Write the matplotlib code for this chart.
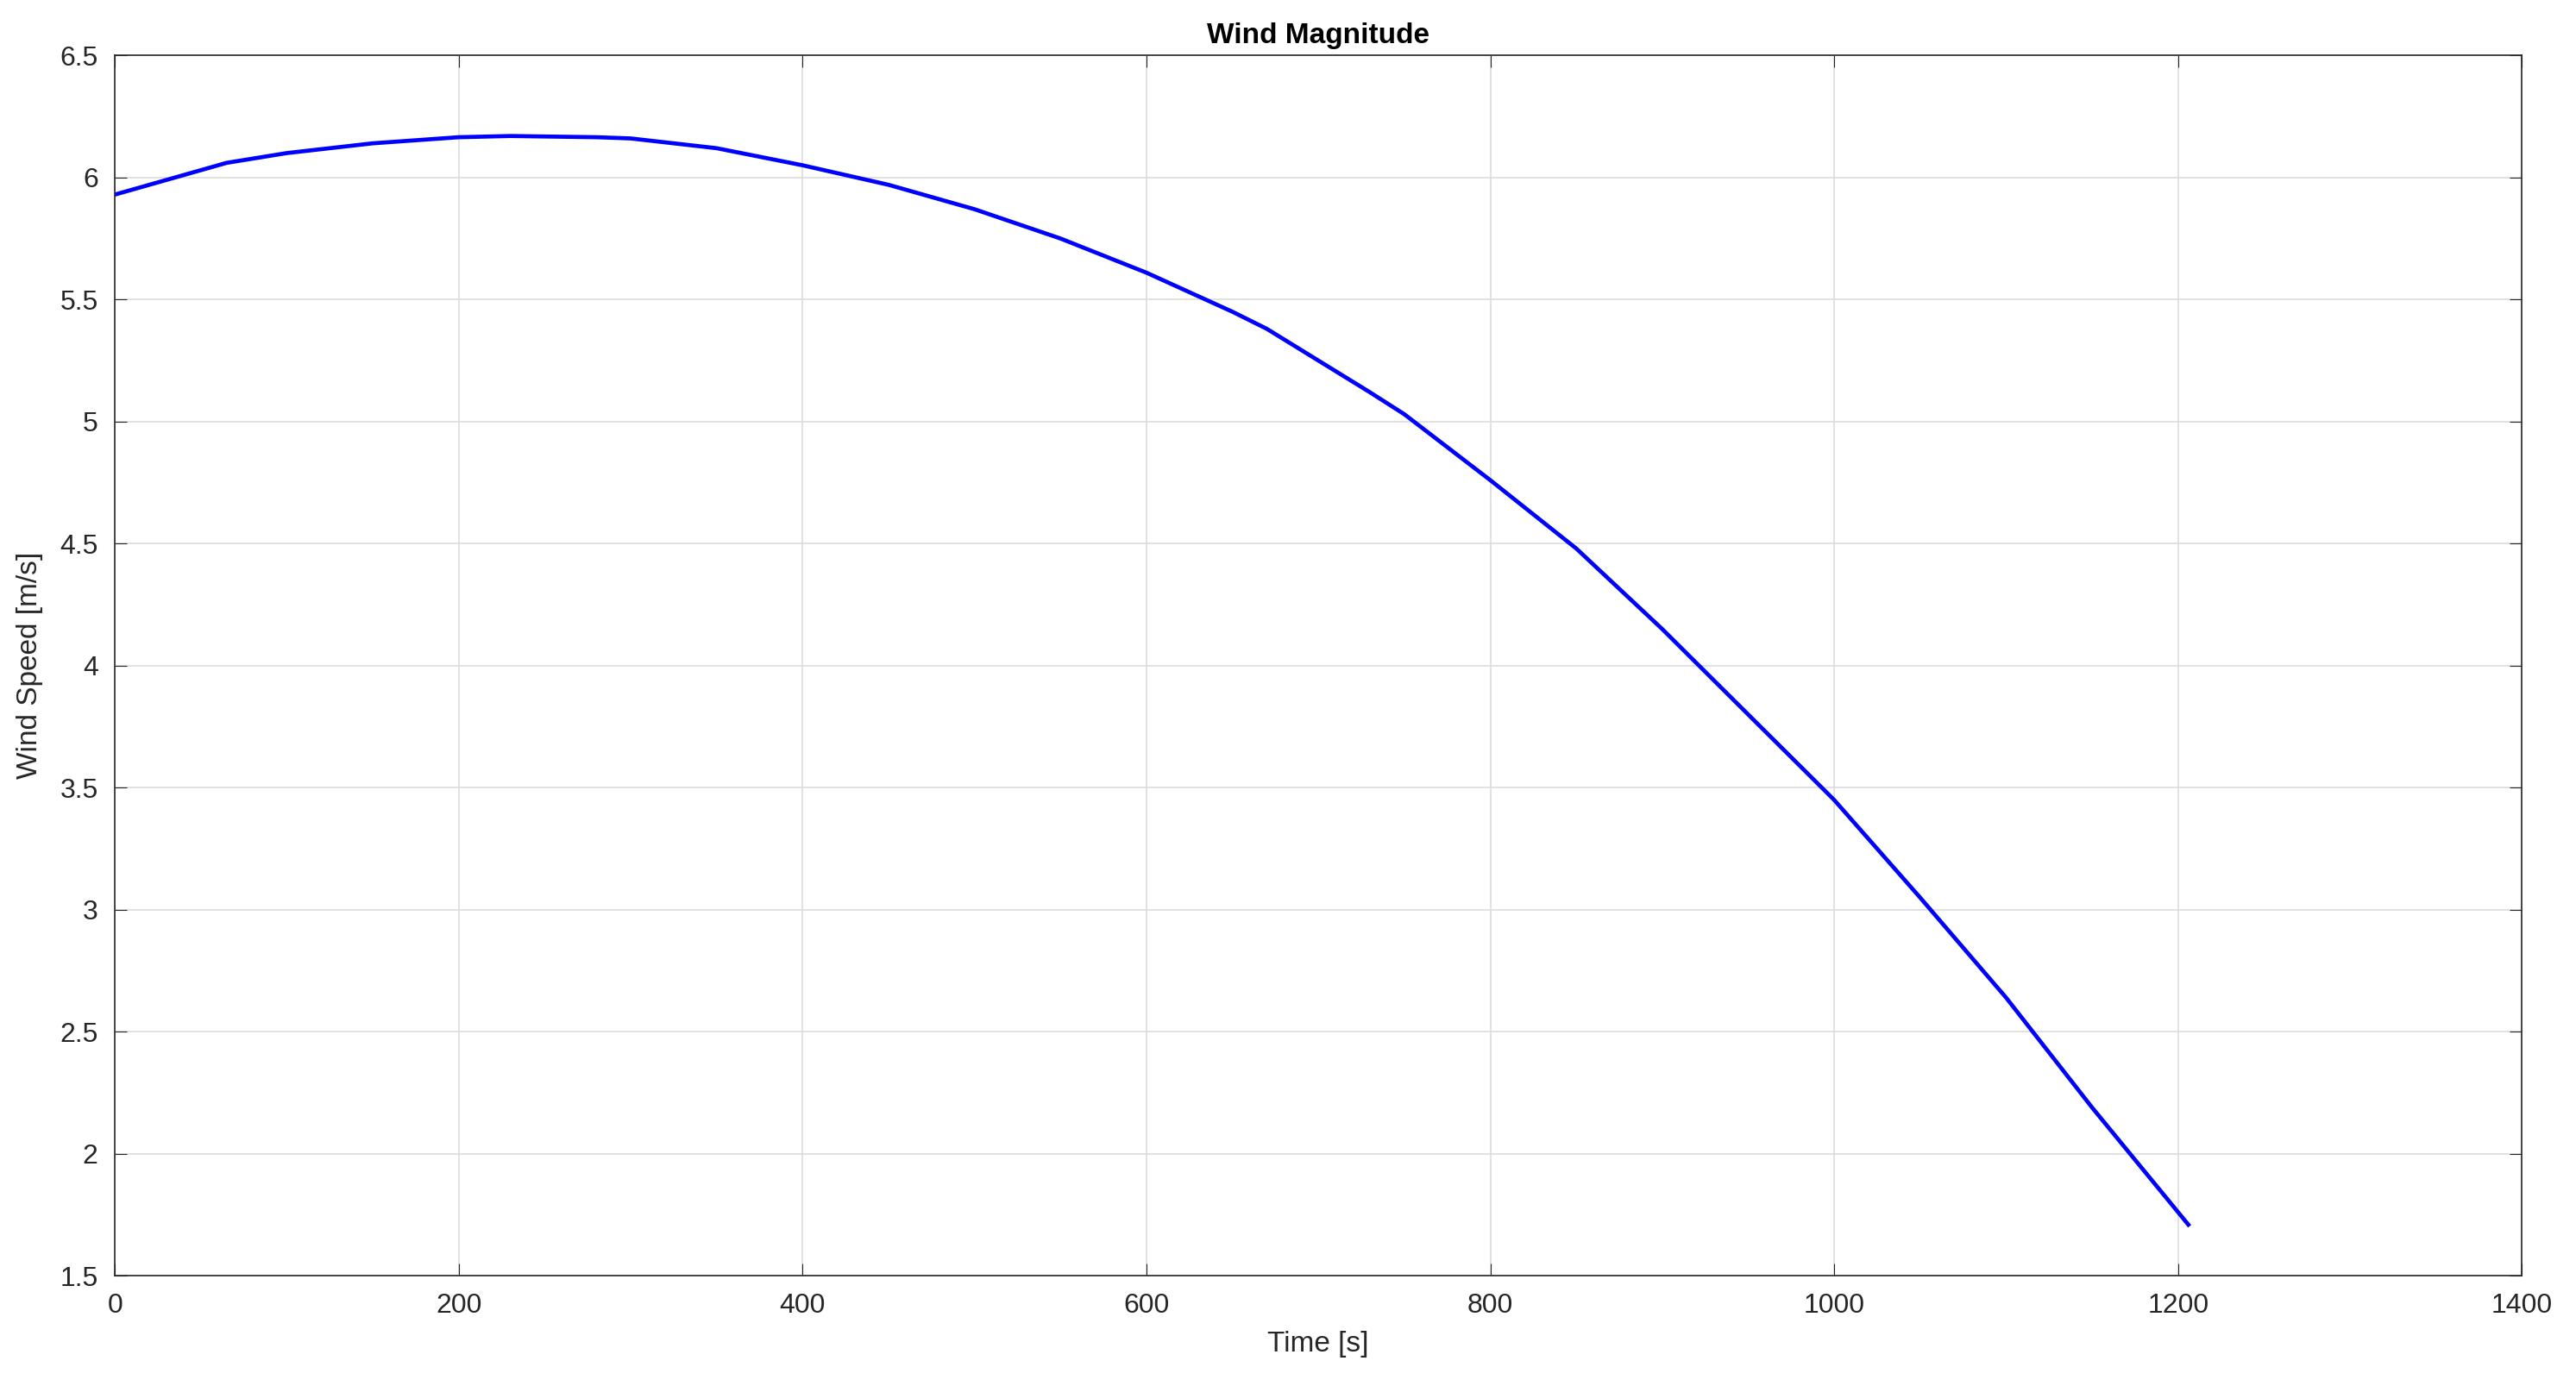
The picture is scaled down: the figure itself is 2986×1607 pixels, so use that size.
import matplotlib
matplotlib.use("Agg")
import matplotlib.pyplot as plt

time_s = [0, 30, 60, 65, 100, 150, 200, 230, 280, 300, 350, 400, 450, 500, 550, 600,
          650, 670, 700, 730, 750, 800, 850, 900, 950, 1000, 1050, 1100, 1150, 1206]
wind = [5.93, 5.99, 6.05, 6.06, 6.10, 6.14, 6.165, 6.17, 6.165, 6.16, 6.12, 6.05, 5.97,
        5.87, 5.75, 5.61, 5.45, 5.38, 5.25, 5.12, 5.03, 4.76, 4.48, 4.15, 3.80, 3.45,
        3.05, 2.64, 2.19, 1.71]

plt.rcParams['font.family'] = ['Liberation Sans', 'DejaVu Sans']
fig = plt.figure(figsize=(29.86, 16.07), dpi=100)
ax = fig.add_axes([0.0446, 0.0794, 0.9344, 0.8806])
ax.plot(time_s, wind, color='#0000ff', lw=3.4)
ax.set_xlim(0, 1400)
ax.set_ylim(1.5, 6.5)
ax.set_xticks(range(0, 1401, 200))
ax.set_yticks([1.5, 2, 2.5, 3, 3.5, 4, 4.5, 5, 5.5, 6, 6.5])
ax.set_yticklabels(['1.5', '2', '2.5', '3', '3.5', '4', '4.5', '5', '5.5', '6', '6.5'])
ax.grid(True, color='#dcdcdc', lw=1.2)
ax.tick_params(labelsize=23, direction='in', length=10, pad=14, top=True, right=True, colors='#262626')
for s in ax.spines.values():
    s.set_color('#262626'); s.set_linewidth(1.2)
ax.set_xlabel('Time [s]', fontsize=24, color='#262626', labelpad=10)
ax.set_ylabel('Wind Speed [m/s]', fontsize=24, color='#262626', labelpad=14)
ax.set_title('Wind Magnitude', fontsize=24, fontweight='bold', pad=10)
fig.savefig('out.png', dpi=100)
